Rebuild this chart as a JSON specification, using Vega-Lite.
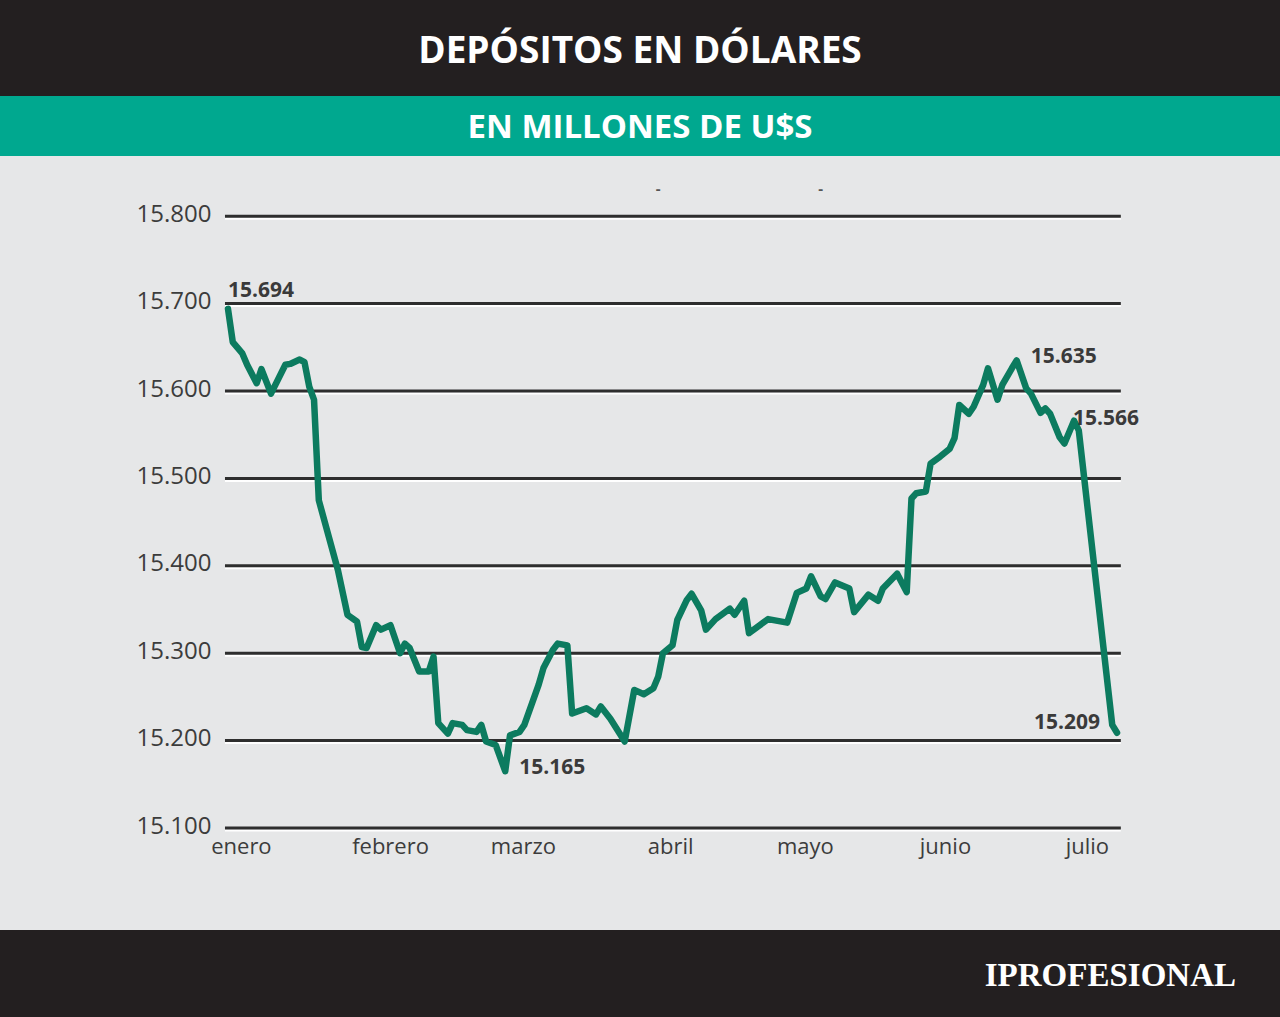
{
  "$schema": "https://vega.github.io/schema/vega-lite/v6.json",
  "padding": 0,
  "spacing": 0,
  "background": "#e6e7e8",
  "config": {
    "view": {"stroke": null},
    "locale": {"number": {"decimal": ",", "thousands": ".", "grouping": [3], "currency": ["$", ""]}},
    "axisX": {
      "offset": -102,
      "labelPadding": 8,
      "labelAngle": 0,
      "labelFlush": false,
      "labelOverlap": false,
      "ticks": false,
      "domain": false,
      "grid": false,
      "title": null,
      "labelFont": "Open Sans",
      "labelFontSize": 22,
      "labelColor": "#3c3c3c"
    },
    "axisY": {
      "offset": -214,
      "labelPadding": 3,
      "labelOffset": -2,
      "ticks": false,
      "domain": false,
      "grid": false,
      "title": null,
      "labelFont": "Open Sans",
      "labelFontSize": 24,
      "labelColor": "#3c3c3c"
    }
  },
  "datasets": {
    "serie": [
      {"dia": 3, "valor": 15694}, {"dia": 4, "valor": 15656}, {"dia": 6, "valor": 15643}, {"dia": 7, "valor": 15630},
      {"dia": 9, "valor": 15609}, {"dia": 10, "valor": 15625}, {"dia": 12, "valor": 15597}, {"dia": 15, "valor": 15630},
      {"dia": 16, "valor": 15631}, {"dia": 18, "valor": 15636}, {"dia": 19, "valor": 15633}, {"dia": 20, "valor": 15605},
      {"dia": 21, "valor": 15590}, {"dia": 22, "valor": 15475}, {"dia": 26, "valor": 15395}, {"dia": 28, "valor": 15344},
      {"dia": 30, "valor": 15336}, {"dia": 31, "valor": 15307}, {"dia": 32, "valor": 15306}, {"dia": 34, "valor": 15332},
      {"dia": 35, "valor": 15327}, {"dia": 37, "valor": 15332}, {"dia": 39, "valor": 15300}, {"dia": 40, "valor": 15311},
      {"dia": 41, "valor": 15306}, {"dia": 43, "valor": 15279}, {"dia": 45, "valor": 15279}, {"dia": 46, "valor": 15296},
      {"dia": 47, "valor": 15220}, {"dia": 49, "valor": 15208}, {"dia": 50, "valor": 15220}, {"dia": 52, "valor": 15218},
      {"dia": 53, "valor": 15212}, {"dia": 55, "valor": 15210}, {"dia": 56, "valor": 15218}, {"dia": 57, "valor": 15199},
      {"dia": 59, "valor": 15195}, {"dia": 61, "valor": 15165}, {"dia": 62, "valor": 15206}, {"dia": 64, "valor": 15210},
      {"dia": 65, "valor": 15218}, {"dia": 68, "valor": 15264}, {"dia": 69, "valor": 15283}, {"dia": 71, "valor": 15304},
      {"dia": 72, "valor": 15311}, {"dia": 74, "valor": 15309}, {"dia": 75, "valor": 15231}, {"dia": 78, "valor": 15237},
      {"dia": 80, "valor": 15230}, {"dia": 81, "valor": 15239}, {"dia": 83, "valor": 15225}, {"dia": 86, "valor": 15199},
      {"dia": 88, "valor": 15258}, {"dia": 90, "valor": 15253}, {"dia": 92, "valor": 15260}, {"dia": 93, "valor": 15273},
      {"dia": 94, "valor": 15300}, {"dia": 96, "valor": 15309}, {"dia": 97, "valor": 15338}, {"dia": 99, "valor": 15361},
      {"dia": 100, "valor": 15368}, {"dia": 102, "valor": 15349}, {"dia": 103, "valor": 15327}, {"dia": 105, "valor": 15339},
      {"dia": 108, "valor": 15351}, {"dia": 109, "valor": 15344}, {"dia": 111, "valor": 15360}, {"dia": 112, "valor": 15323},
      {"dia": 114, "valor": 15331}, {"dia": 116, "valor": 15339}, {"dia": 120, "valor": 15335}, {"dia": 122, "valor": 15369},
      {"dia": 124, "valor": 15374}, {"dia": 125, "valor": 15388}, {"dia": 127, "valor": 15365}, {"dia": 128, "valor": 15362},
      {"dia": 130, "valor": 15381}, {"dia": 133, "valor": 15374}, {"dia": 134, "valor": 15347}, {"dia": 137, "valor": 15367},
      {"dia": 139, "valor": 15360}, {"dia": 140, "valor": 15374}, {"dia": 143, "valor": 15391}, {"dia": 145, "valor": 15370},
      {"dia": 146, "valor": 15477}, {"dia": 147, "valor": 15483}, {"dia": 149, "valor": 15485}, {"dia": 150, "valor": 15517},
      {"dia": 152, "valor": 15525}, {"dia": 154, "valor": 15534}, {"dia": 155, "valor": 15546}, {"dia": 156, "valor": 15584},
      {"dia": 158, "valor": 15574}, {"dia": 159, "valor": 15582}, {"dia": 161, "valor": 15607}, {"dia": 162, "valor": 15626},
      {"dia": 164, "valor": 15590}, {"dia": 165, "valor": 15607}, {"dia": 167, "valor": 15626}, {"dia": 168, "valor": 15635},
      {"dia": 170, "valor": 15603}, {"dia": 171, "valor": 15597}, {"dia": 173, "valor": 15575}, {"dia": 174, "valor": 15580},
      {"dia": 175, "valor": 15574}, {"dia": 177, "valor": 15547}, {"dia": 178, "valor": 15540}, {"dia": 180, "valor": 15566},
      {"dia": 181, "valor": 15555}, {"dia": 188, "valor": 15218}, {"dia": 189, "valor": 15209}
    ],
    "lineas": [
      {"valor": 15100}, {"valor": 15200}, {"valor": 15300}, {"valor": 15400},
      {"valor": 15500}, {"valor": 15600}, {"valor": 15700}, {"valor": 15800}
    ],
    "marcas": [
      {"dia": 93, "valor": 15831},
      {"dia": 127, "valor": 15831}
    ]
  },
  "vconcat": [
    {
      "width": 1280,
      "height": 96,
      "view": {"fill": "#231f20", "stroke": null},
      "data": {"values": [{"texto": "DEPÓSITOS EN DÓLARES"}]},
      "mark": {"type": "text", "font": "Open Sans", "fontWeight": "bold", "fontSize": 37, "color": "#ffffff", "baseline": "middle", "dy": 4},
      "encoding": {"text": {"field": "texto"}}
    },
    {
      "width": 1280,
      "height": 60,
      "view": {"fill": "#00a88f", "stroke": null},
      "data": {"values": [{"texto": "EN MILLONES DE U$S"}]},
      "mark": {"type": "text", "font": "Open Sans", "fontWeight": "bold", "fontSize": 33, "color": "#ffffff", "baseline": "middle", "dy": 2},
      "encoding": {"text": {"field": "texto"}}
    },
    {
      "width": 1280,
      "height": 774,
      "view": {"fill": "#e6e7e8", "stroke": null},
      "layer": [
        {
          "data": {"name": "lineas"},
          "mark": {"type": "rule", "color": "#ffffff", "strokeWidth": 2, "yOffset": 2.5},
          "encoding": {
            "x": {
              "datum": 2.37,
              "type": "quantitative",
              "title": null,
              "scale": {"domain": [-44.7, 223.1], "nice": false, "zero": false},
              "axis": {
                "values": [5.7, 36.9, 64.7, 95.5, 123.7, 153, 182.7],
                "labelExpr": "datum.value < 20 ? 'enero' : datum.value < 50 ? 'febrero' : datum.value < 80 ? 'marzo' : datum.value < 110 ? 'abril' : datum.value < 140 ? 'mayo' : datum.value < 170 ? 'junio' : 'julio'"
              }
            },
            "x2": {"datum": 189.8},
            "y": {
              "field": "valor",
              "type": "quantitative",
              "title": null,
              "scale": {"domain": [14983.3, 15868.9], "nice": false, "zero": false},
              "axis": {
                "values": [15100, 15200, 15300, 15400, 15500, 15600, 15700, 15800],
                "format": ",d"
              }
            }
          }
        },
        {
          "data": {"name": "lineas"},
          "mark": {"type": "rule", "color": "#2e2e2e", "strokeWidth": 3},
          "encoding": {
            "x": {"datum": 2.37, "type": "quantitative", "title": null},
            "x2": {"datum": 189.8},
            "y": {"field": "valor", "type": "quantitative", "title": null}
          }
        },
        {
          "data": {"name": "marcas"},
          "mark": {"type": "text", "text": "-", "font": "Open Sans", "fontWeight": "bold", "fontSize": 15, "color": "#555555", "baseline": "middle"},
          "encoding": {
            "x": {"field": "dia", "type": "quantitative", "title": null},
            "y": {"field": "valor", "type": "quantitative", "title": null}
          }
        },
        {
          "data": {"name": "serie"},
          "mark": {"type": "line", "color": "#0c7b5f", "strokeWidth": 6.5, "strokeJoin": "round", "strokeCap": "round"},
          "encoding": {
            "x": {"field": "dia", "type": "quantitative", "title": null},
            "y": {"field": "valor", "type": "quantitative", "title": null}
          }
        },
        {
          "data": {"name": "serie"},
          "transform": [{"filter": "datum.dia == 3"}],
          "mark": {"type": "text", "font": "Open Sans", "fontWeight": "bold", "fontSize": 21, "color": "#3a3a3a", "align": "left", "baseline": "alphabetic", "dy": -12},
          "encoding": {
            "x": {"field": "dia", "type": "quantitative", "title": null},
            "y": {"field": "valor", "type": "quantitative", "title": null},
            "text": {"field": "valor", "type": "quantitative", "format": ",d"}
          }
        },
        {
          "data": {"name": "serie"},
          "transform": [{"filter": "datum.dia == 61 || datum.dia == 168"}],
          "mark": {"type": "text", "font": "Open Sans", "fontWeight": "bold", "fontSize": 21, "color": "#3a3a3a", "align": "left", "baseline": "middle", "dx": 14, "dy": -3},
          "encoding": {
            "x": {"field": "dia", "type": "quantitative", "title": null},
            "y": {"field": "valor", "type": "quantitative", "title": null},
            "text": {"field": "valor", "type": "quantitative", "format": ",d"}
          }
        },
        {
          "data": {"name": "serie"},
          "transform": [{"filter": "datum.dia == 180"}],
          "mark": {"type": "text", "font": "Open Sans", "fontWeight": "bold", "fontSize": 21, "color": "#3a3a3a", "align": "left", "baseline": "middle", "dx": -1, "dy": -2},
          "encoding": {
            "x": {"field": "dia", "type": "quantitative", "title": null},
            "y": {"field": "valor", "type": "quantitative", "title": null},
            "text": {"field": "valor", "type": "quantitative", "format": ",d"}
          }
        },
        {
          "data": {"name": "serie"},
          "transform": [{"filter": "datum.dia == 189"}],
          "mark": {"type": "text", "font": "Open Sans", "fontWeight": "bold", "fontSize": 21, "color": "#3a3a3a", "align": "right", "baseline": "middle", "dx": -17, "dy": -10},
          "encoding": {
            "x": {"field": "dia", "type": "quantitative", "title": null},
            "y": {"field": "valor", "type": "quantitative", "title": null},
            "text": {"field": "valor", "type": "quantitative", "format": ",d"}
          }
        }
      ]
    },
    {
      "width": 1280,
      "height": 87,
      "view": {"fill": "#231f20", "stroke": null},
      "data": {"values": [{"marca": "IPROFESIONAL"}]},
      "mark": {"type": "text", "font": "Liberation Serif", "fontWeight": "bold", "fontSize": 33, "color": "#ffffff", "align": "right", "baseline": "middle", "dx": 596, "dy": 2},
      "encoding": {"text": {"field": "marca"}}
    }
  ]
}
